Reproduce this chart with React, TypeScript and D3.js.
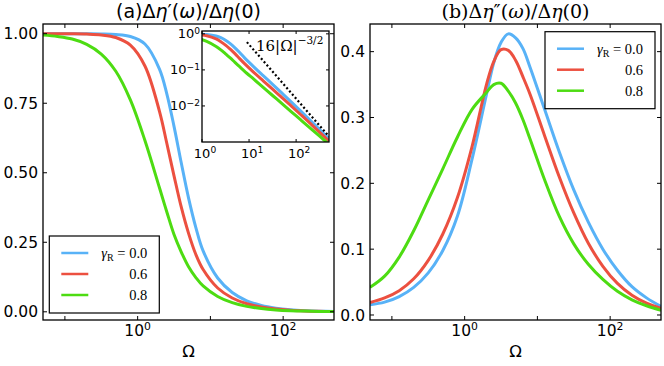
import React from 'react';
import * as d3 from 'd3';

// log-spaced frequency samples (Omega), denser around the peak
const omega = [0.0501, 0.0794, 0.126, 0.1995, 0.316, 0.501, 0.794, 1.259, 1.995, 2.512, 3.162,
  3.981, 5.012, 6.31, 7.943, 12.59, 19.95, 31.62, 50.12, 79.43, 125.9, 199.5, 316.2, 501.2];

const gammaR = ['0.0', '0.6', '0.8'];
const colors = ['#58b2f7', '#ec5040', '#4ddc12'];

// (a) real part, one array per gamma_R
const realG00 = [1.0, 1.0, 1.0, 0.9998, 0.9994, 0.9975, 0.99, 0.963, 0.873, 0.785, 0.667,
  0.535, 0.409, 0.303, 0.219, 0.1216, 0.0693, 0.0397, 0.0226, 0.0128, 0.00716, 0.00399, 0.00221, 0.00122];
const realG06 = [1.0, 0.9999, 0.9996, 0.9986, 0.9957, 0.9865, 0.959, 0.884, 0.721, 0.607, 0.489,
  0.376, 0.282, 0.206, 0.152, 0.0855, 0.0497, 0.0291, 0.0171, 0.0099, 0.0057, 0.00327, 0.00186, 0.00106];
const realG08 = [0.995, 0.99, 0.981, 0.962, 0.927, 0.865, 0.762, 0.616, 0.446, 0.36, 0.278,
  0.215, 0.162, 0.123, 0.093, 0.0552, 0.0328, 0.0195, 0.0116, 0.00689, 0.00409, 0.00243, 0.00145, 0.00086];

// (b) imaginary part
const imagG00 = [0.0155, 0.0195, 0.028, 0.042, 0.064, 0.098, 0.15, 0.236, 0.335, 0.383, 0.414,
  0.427, 0.421, 0.405, 0.376, 0.312, 0.248, 0.19, 0.141, 0.1, 0.068, 0.043, 0.026, 0.013];
const imagG06 = [0.019, 0.026, 0.037, 0.055, 0.083, 0.123, 0.178, 0.255, 0.35, 0.385, 0.403,
  0.402, 0.387, 0.362, 0.335, 0.272, 0.21, 0.155, 0.109, 0.074, 0.048, 0.03, 0.018, 0.01];
const imagG08 = [0.042, 0.059, 0.088, 0.128, 0.175, 0.222, 0.27, 0.312, 0.338, 0.35, 0.352,
  0.34, 0.322, 0.297, 0.267, 0.205, 0.15, 0.108, 0.077, 0.054, 0.036, 0.023, 0.014, 0.007];

// dotted asymptote 16|Omega|^(-3/2) in the inset (end points)
const asymOmega = [9, 500];
const asymValue = [0.59, 0.00143];

const realSeries = [realG00, realG06, realG08];
const imagSeries = [imagG00, imagG06, imagG08];

const SANS = 'DejaVu Sans';
const SERIF = 'DejaVu Serif';

function Pow10({ x, y, exp, size, anchor = 'middle' }: any) {
  return (
    <text x={x} y={y} fontSize={size} textAnchor={anchor} fontFamily={SANS}>
      10<tspan fontSize={size * 0.7} dy={-size * 0.36}>{exp}</tspan>
    </text>
  );
}

function Legend({ x0, y0 }: any) {
  return (
    <g>
      <rect x={x0} y={y0} width={110} height={77} fill="white" stroke="black" strokeWidth={1.2} />
      {gammaR.map((g, i) => {
        const yy = y0 + 17 + i * 21;
        return (
          <g key={g}>
            <line x1={x0 + 12} x2={x0 + 39} y1={yy} y2={yy} stroke={colors[i]} strokeWidth={2.5} />
            <text x={x0 + 98} y={yy + 5.3} textAnchor="end" fontFamily="Liberation Serif" fontSize={14.5}>
              {i === 0 ? (
                <>
                  <tspan fontStyle="italic">γ</tspan>
                  <tspan fontSize={10} dy={3}>R</tspan>
                  <tspan dy={-3}>{' = ' + g}</tspan>
                </>
              ) : g}
            </text>
          </g>
        );
      })}
    </g>
  );
}

function Frame({ b, xs, ys, yTicks, yFmt, tickLen = 4 }: any) {
  return (
    <g>
      {[0.1, 1, 10, 100].map(t => (
        <g key={'x' + t}>
          <line x1={xs(t)} x2={xs(t)} y1={b.y1} y2={b.y1 - tickLen} stroke="black" />
          <line x1={xs(t)} x2={xs(t)} y1={b.y0} y2={b.y0 + tickLen} stroke="black" />
        </g>
      ))}
      {yTicks.map((t: number) => (
        <g key={'y' + t}>
          <line x1={b.x0} x2={b.x0 + tickLen} y1={ys(t)} y2={ys(t)} stroke="black" />
          <line x1={b.x1} x2={b.x1 - tickLen} y1={ys(t)} y2={ys(t)} stroke="black" />
          <text x={b.x0 - 5} y={ys(t)} dy="0.36em" textAnchor="end" fontFamily={SANS} fontSize={15.5}>
            {yFmt(t)}
          </text>
        </g>
      ))}
      <Pow10 x={xs(1)} y={336} exp="0" size={15.5} />
      <Pow10 x={xs(100)} y={336} exp="2" size={15.5} />
      <text x={(b.x0 + b.x1) / 2} y={356.7} textAnchor="middle" fontFamily={SANS} fontSize={16.5}>Ω</text>
      <rect x={b.x0} y={b.y0} width={b.x1 - b.x0} height={b.y1 - b.y0} fill="none" stroke="black" strokeWidth={1.3} />
    </g>
  );
}

function Inset() {
  const b = { x0: 202, x1: 329, y0: 31, y1: 142 };
  const xs = d3.scaleLog().domain([1, 500]).range([b.x0, b.x1]);
  const ys = d3.scaleLog().domain([0.001, 1.2]).range([b.y1, b.y0]);
  const line = d3.line<number>()
    .x((_, i) => xs(omega[i]))
    .y(d => ys(d))
    .curve(d3.curveCatmullRom.alpha(0.5));
  const asym = d3.line<number>().x((_, i) => xs(asymOmega[i])).y(d => ys(d));
  return (
    <g>
      <defs>
        <clipPath id="clipInset">
          <rect x={b.x0} y={b.y0} width={b.x1 - b.x0} height={b.y1 - b.y0} />
        </clipPath>
      </defs>
      <rect x={b.x0} y={b.y0} width={b.x1 - b.x0} height={b.y1 - b.y0} fill="white" />
      <g clipPath="url(#clipInset)">
        {realSeries.map((s, i) => (
          <path key={i} d={line(s) || ''} fill="none" stroke={colors[i]} strokeWidth={3} />
        ))}
        <path d={asym(asymValue) || ''} fill="none" stroke="black" strokeWidth={2.2} strokeDasharray="2 2.3" />
      </g>
      {[1, 10, 100].map(t => (
        <g key={'ix' + t}>
          <line x1={xs(t)} x2={xs(t)} y1={b.y1} y2={b.y1 - 3} stroke="black" />
          <line x1={xs(t)} x2={xs(t)} y1={b.y0} y2={b.y0 + 3} stroke="black" />
        </g>
      ))}
      {[1, 0.1, 0.01].map(t => (
        <g key={'iy' + t}>
          <line x1={b.x0} x2={b.x0 + 3} y1={ys(t)} y2={ys(t)} stroke="black" />
          <line x1={b.x1} x2={b.x1 - 3} y1={ys(t)} y2={ys(t)} stroke="black" />
        </g>
      ))}
      <Pow10 x={b.x0 - 2} y={ys(1) + 4.5} exp="0" size={13} anchor="end" />
      <Pow10 x={b.x0 - 2} y={ys(0.1) + 4.5} exp="−1" size={13} anchor="end" />
      <Pow10 x={b.x0 - 2} y={ys(0.01) + 4.5} exp="−2" size={13} anchor="end" />
      <Pow10 x={xs(1) + 3} y={158} exp="0" size={13} />
      <Pow10 x={xs(10) + 3} y={158} exp="1" size={13} />
      <Pow10 x={xs(100) + 3} y={158} exp="2" size={13} />
      <text x={256} y={50.5} fontFamily={SERIF} fontSize={15}>
        16|Ω|<tspan fontSize={10.5} dy={-6.5}>−3/2</tspan>
      </text>
      <rect x={b.x0} y={b.y0} width={b.x1 - b.x0} height={b.y1 - b.y0} fill="none" stroke="black" strokeWidth={1.3} />
    </g>
  );
}

function PanelA() {
  const b = { x0: 43, x1: 334, y0: 24, y1: 320 };
  const xs = d3.scaleLog().domain([0.05, 500]).range([b.x0, b.x1]);
  const ys = d3.scaleLinear().domain([-0.0295, 1.035]).range([b.y1, b.y0]);
  const line = d3.line<number>()
    .x((_, i) => xs(omega[i]))
    .y(d => ys(d))
    .curve(d3.curveCatmullRom.alpha(0.5));
  return (
    <g>
      <defs>
        <clipPath id="clipA">
          <rect x={b.x0} y={b.y0} width={b.x1 - b.x0} height={b.y1 - b.y0} />
        </clipPath>
      </defs>
      <g clipPath="url(#clipA)">
        {realSeries.map((s, i) => (
          <path key={i} d={line(s) || ''} fill="none" stroke={colors[i]} strokeWidth={3} />
        ))}
      </g>
      <Frame b={b} xs={xs} ys={ys} yTicks={[0, 0.25, 0.5, 0.75, 1]} yFmt={d3.format('.2f')} />
      <Inset />
      <Legend x0={49.3} y0={236} />
      <text x={188.5} y={17.6} textAnchor="middle" fontFamily={SANS} fontSize={19}>
        (a)Δ<tspan fontStyle="italic">η</tspan>′(<tspan fontStyle="italic">ω</tspan>)/Δ<tspan fontStyle="italic">η</tspan>(0)
      </text>
    </g>
  );
}

function PanelB() {
  const b = { x0: 370, x1: 661, y0: 24, y1: 320 };
  const xs = d3.scaleLog().domain([0.05, 500]).range([b.x0, b.x1]);
  const ys = d3.scaleLinear().domain([-0.0076, 0.442]).range([b.y1, b.y0]);
  const line = d3.line<number>()
    .x((_, i) => xs(omega[i]))
    .y(d => ys(d))
    .curve(d3.curveCatmullRom.alpha(0.5));
  return (
    <g>
      <defs>
        <clipPath id="clipB">
          <rect x={b.x0} y={b.y0} width={b.x1 - b.x0} height={b.y1 - b.y0} />
        </clipPath>
      </defs>
      <g clipPath="url(#clipB)">
        {imagSeries.map((s, i) => (
          <path key={i} d={line(s) || ''} fill="none" stroke={colors[i]} strokeWidth={3} />
        ))}
      </g>
      <Frame b={b} xs={xs} ys={ys} yTicks={[0, 0.1, 0.2, 0.3, 0.4]} yFmt={d3.format('.1f')} />
      <Legend x0={545} y0={31.7} />
      <text x={515.5} y={17.6} textAnchor="middle" fontFamily={SERIF} fontSize={19}>
        (b)Δ<tspan fontStyle="italic">η</tspan>″(<tspan fontStyle="italic">ω</tspan>)/Δ<tspan fontStyle="italic">η</tspan>(0)
      </text>
    </g>
  );
}

export default function App() {
  return (
    <svg width={664} height={366} style={{ position: 'absolute', left: 0, top: 0, background: 'white' }}>
      <rect width={664} height={366} fill="white" />
      <PanelA />
      <PanelB />
    </svg>
  );
}
